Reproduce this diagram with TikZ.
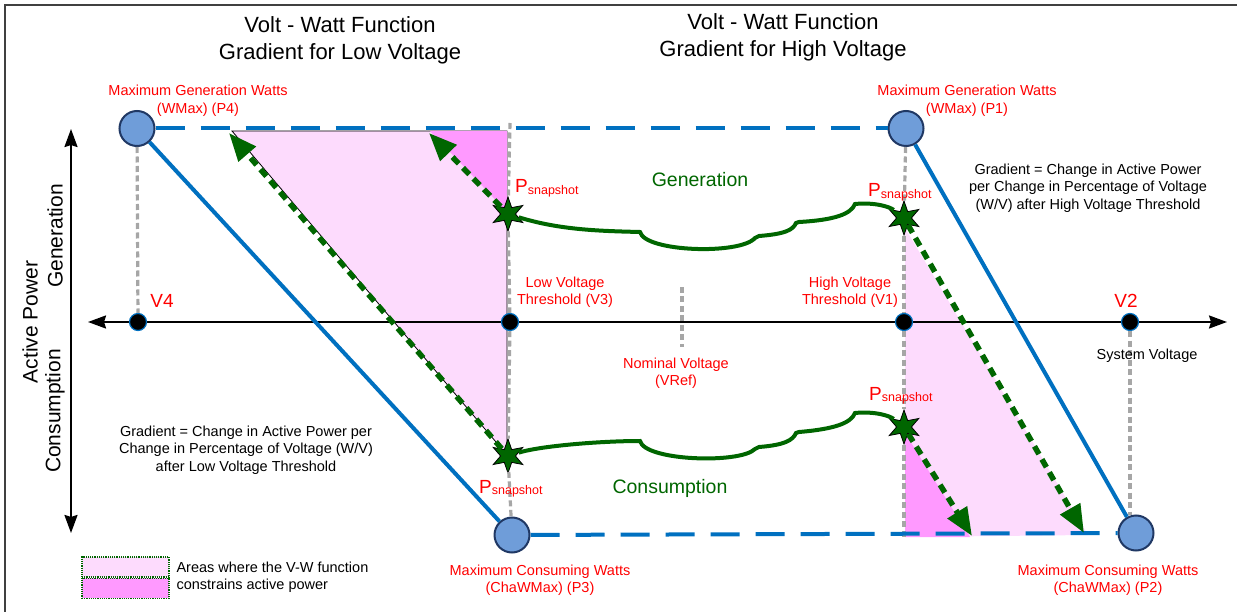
\documentclass[tikz,border=0pt]{standalone}
\usepackage{fontspec}
\setmainfont{Liberation Sans}
\usetikzlibrary{arrows.meta,positioning,shapes.geometric}
\definecolor{VWBlue}{HTML}{0070C0}
\definecolor{VWNode}{HTML}{6F9DD9}
\definecolor{VWNodeEdge}{HTML}{203864}
\definecolor{VWGreen}{HTML}{006600}
\definecolor{VWPink}{HTML}{FDDBFD}
\definecolor{VWMagenta}{HTML}{FF99FF}
\definecolor{VWGray}{HTML}{A6A6A6}
\definecolor{VWRed}{HTML}{FF0000}
\newcommand{\Psnap}{P\raisebox{-1.5pt}{\fontsize{12.5}{13}\selectfont snapshot}}

\begin{document}
\begin{tikzpicture}[x=1pt,y=-1pt]
  \tikzset{
    maxpt/.style={circle,minimum size=35pt,inner sep=0pt,fill=VWNode,draw=VWNodeEdge,line width=2pt},
    axdot/.style={circle,minimum size=17pt,inner sep=0pt,fill=black,draw=VWBlue,line width=1.2pt},
    snap/.style={star,star points=6,star point ratio=2.3,minimum size=34pt,inner sep=0pt,fill=VWGreen,draw=black,line width=0.8pt},
    limit/.style={VWBlue,line width=4pt},
    limitdash/.style={VWBlue,line width=4pt,dash pattern=on 29pt off 16pt},
    guide/.style={VWGray,line width=3.2pt,dash pattern=on 6pt off 3.5pt},
    trace/.style={VWGreen,line width=4pt},
    move/.style={VWGreen,line width=5.5pt,dash pattern=on 9pt off 6pt,-{Triangle[length=28pt,width=22pt]}},
    axisline/.style={black,line width=2.2pt,{Stealth[length=18pt,width=13pt,inset=2pt]}-{Stealth[length=18pt,width=13pt,inset=2pt]}},
    ttl/.style={font=\fontsize{22}{27}\selectfont,align=center},
    redlbl/.style={text=VWRed,font=\fontsize{14.5}{17.5}\selectfont,align=center},
    note/.style={font=\fontsize{14.5}{17.5}\selectfont,align=center},
    vlbl/.style={text=VWRed,font=\fontsize{19}{22}\selectfont,inner sep=0pt},
    grn/.style={text=VWGreen,font=\fontsize{19.5}{22}\selectfont},
    ylbl/.style={font=\fontsize{21}{25}\selectfont,rotate=90},
    legbox/.style={minimum width=87pt,minimum height=20pt,inner sep=0pt,draw=VWGreen,densely dotted,line width=1.2pt}
  }
  \useasboundingbox (0,0) rectangle (1237,612);
  \draw[black!75,line width=1.5pt] (5,612) -- (5,5) -- (1237,5);

  % constrained areas
  \fill[VWPink] (905,228) -- (905,537) -- (1088,535) -- cycle;
  \fill[VWMagenta] (905,433) -- (905,537) -- (970,537) -- cycle;
  \draw[fill=VWPink,line width=0.8pt] (232,131) -- (507,131) -- (507,455) -- cycle;
  \fill[VWMagenta] (430,131) -- (507,131) -- (507,212) -- cycle;

  % axes
  \coordinate (xl) at (88,322);
  \coordinate (xr) at (1227,322);
  \coordinate (yt) at (71,129);
  \coordinate (yb) at (71,533);
  \draw[axisline] (xl) -- (xr);
  \draw[axisline] (yb) -- (yt);

  \node[maxpt] (p4) at (137,128.5) {};
  \node[maxpt] (p1) at (906,128.5) {};
  \node[maxpt] (p3) at (512,535) {};
  \node[maxpt] (p2) at (1136,533) {};
  \node[axdot] (v4) at (138,322) {};
  \node[axdot] (v3) at (510,322) {};
  \node[axdot] (v1) at (904,322) {};
  \node[axdot] (v2) at (1130,322) {};
  \node[snap] (s1) at (508,214) {};
  \node[snap] (s2) at (904,218) {};
  \node[snap] (s3) at (508,456) {};
  \node[snap] (s4) at (904,427) {};

  \coordinate (g3) at (510,123);
  \coordinate (g1) at (904,537);
  \coordinate (gr1) at (682,287);
  \coordinate (gr2) at (682,347);
  \draw[guide] (p4) -- (v4);
  \draw[guide] (g3) -- (s1);
  \draw[guide] (s1) -- (v3);
  \draw[guide] (v3) -- (s3);
  \draw[guide] (s3) -- (p3);
  \draw[guide] (p1) -- (s2);
  \draw[guide] (s2) -- (v1);
  \draw[guide] (v1) -- (s4);
  \draw[guide] (s4) -- (g1);
  \draw[guide] (v2) -- (v2 |- p2.north);
  \draw[guide] (gr1) -- (gr2);

  \draw[limitdash] (p4) -- (p1);
  \draw[limitdash] (p3) -- (p2);
  \draw[limit] (p4) -- (p3);
  \draw[limit] (p1) -- (p2);

  % snapshot paths
  \draw[trace] (s1) .. controls (560,230) and (600,231) .. (640,232)
    .. controls (645,252) and (740,255) .. (755,238) -- (759,236)
    .. controls (785,234) and (793,230) .. (796,223) -- (799,222)
    .. controls (835,220) and (851,214) .. (855,204)
    .. controls (875,202) and (890,207) .. (s2);
  \draw[trace] (s3) .. controls (540,446) and (600,441) .. (640,441)
    .. controls (645,461) and (740,464) .. (755,449) -- (759,447)
    .. controls (785,445) and (793,440) .. (796,433) -- (799,432)
    .. controls (835,429) and (851,423) .. (855,413)
    .. controls (875,411) and (890,416) .. (s4);

  \coordinate (a1) at (229,133);
  \coordinate (a2) at (429,133);
  \coordinate (a3) at (972,536);
  \coordinate (a4) at (1084,533);
  \draw[move] (s3) -- (a1);
  \draw[move] (s1) -- (a2);
  \draw[move] (s4) -- (a3);
  \draw[move] (s2) -- (a4);

  % titles and labels
  \node[ttl] (tl) at (340,40) {Volt - Watt Function\\Gradient for Low Voltage};
  \node[ttl] (tr) at (783,37) {Volt - Watt Function\\Gradient for High Voltage};
  \node[redlbl] (p4l) at (198,101) {Maximum Generation Watts\\(WMax) (P4)};
  \node[redlbl] (p1l) at (967,101) {Maximum Generation Watts\\(WMax) (P1)};
  \node[redlbl] (p3l) at (540,580) {Maximum Consuming Watts\\(ChaWMax) (P3)};
  \node[redlbl] (p2l) at (1108,580) {Maximum Consuming Watts\\(ChaWMax) (P2)};
  \node[redlbl] (v3l) at (565,292) {Low Voltage\\Threshold (V3)};
  \node[redlbl] (v1l) at (850,292) {High Voltage\\Threshold (V1)};
  \node[redlbl] (vrefl) at (676,373) {Nominal Voltage\\(VRef)};
  \node[vlbl] (v4l) at (162,301) {V4};
  \node[vlbl] (v2l) at (1126,301) {V2};
  \node[note] (sysv) at (1147,356) {System Voltage};
  \node[vlbl,anchor=base west] (s1l) at (515,193) {\Psnap};
  \node[vlbl,anchor=base west] (s2l) at (868,197) {\Psnap};
  \node[vlbl,anchor=base west] (s3l) at (479,493) {\Psnap};
  \node[vlbl,anchor=base west] (s4l) at (869,400) {\Psnap};
  \node[grn] (gen) at (700,180) {Generation};
  \node[grn] (con) at (670,488) {Consumption};
  \node[note] (gradr) at (1088,188) {Gradient = Change in Active Power\\per Change in Percentage of Voltage\\(W/V) after High Voltage Threshold};
  \node[note] (gradl) at (246,450) {Gradient = Change in Active Power per\\Change in Percentage of Voltage (W/V)\\after Low Voltage Threshold};
  \node[ylbl] (yap) at (30,322) {Active Power};
  \node[ylbl] (ygen) at (55,236) {Generation};
  \node[ylbl] (ycon) at (55,411) {Consumption};

  % legend
  \node[legbox,fill=VWPink] (lg1) at (125.5,567) {};
  \node[legbox,fill=VWMagenta,below=0pt of lg1] (lg2) {};
  \node[note,align=left,anchor=west] (lgt) at (173,577) {Areas where the V-W function\\constrains active power};
\end{tikzpicture}
\end{document}
